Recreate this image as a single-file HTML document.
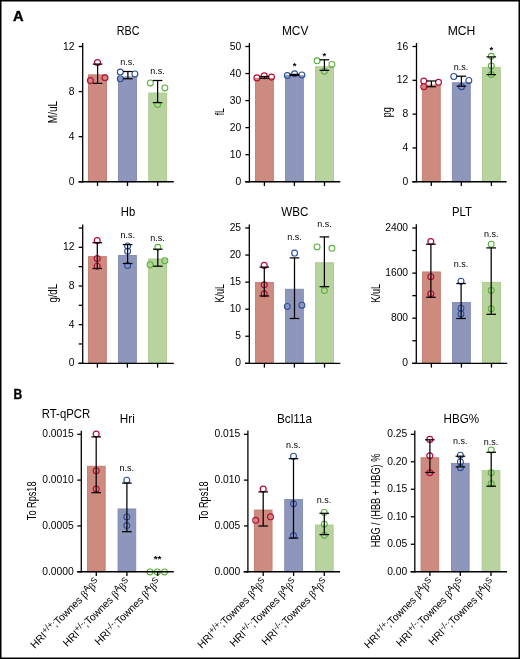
<!DOCTYPE html><html><head><meta charset="utf-8"><style>html,body{margin:0;padding:0;background:#fff;width:520px;height:659px;overflow:hidden}body{position:relative;font-family:"Liberation Sans",sans-serif}</style></head><body>
<svg width="520" height="659" viewBox="0 0 520 659" style="position:absolute;left:0;top:0;will-change:transform">
<g font-family='"Liberation Sans", sans-serif'>
<rect x="0" y="0" width="520" height="659" fill="#fff"/>
<text x="13.0" y="20.8" font-size="14.2" font-weight="bold" textLength="10.6" lengthAdjust="spacingAndGlyphs" fill="#000" stroke="#000" stroke-width="0.4">A</text>
<text x="13.6" y="399.4" font-size="14.2" font-weight="bold" textLength="8.7" lengthAdjust="spacingAndGlyphs" fill="#000" stroke="#000" stroke-width="0.4">B</text>
<rect x="88.55" y="74.85000000000001" width="17.900000000000002" height="106.89999999999999" fill="#cd8b7f" stroke="#c47a6e" stroke-width="0.9"/>
<rect x="118.55" y="76.95" width="17.900000000000002" height="104.8" fill="#8e97bb" stroke="#8089b2" stroke-width="0.9"/>
<rect x="148.75" y="93.05" width="17.900000000000002" height="88.7" fill="#b8d39d" stroke="#a9c98c" stroke-width="0.9"/>
<circle cx="97.5" cy="62.6" r="2.95" fill="none" stroke="#b80e38" stroke-width="1.2"/>
<circle cx="90.4" cy="80.6" r="2.95" fill="none" stroke="#b80e38" stroke-width="1.2"/>
<circle cx="105" cy="77.75" r="2.95" fill="none" stroke="#b80e38" stroke-width="1.2"/>
<circle cx="120.3" cy="72.1" r="2.95" fill="none" stroke="#2b4f99" stroke-width="1.1"/>
<circle cx="120.3" cy="78.75" r="2.95" fill="none" stroke="#2b4f99" stroke-width="1.1"/>
<circle cx="134.9" cy="74.0" r="2.95" fill="none" stroke="#2b4f99" stroke-width="1.1"/>
<circle cx="150.4" cy="82.9" r="2.95" fill="none" stroke="#58b03a" stroke-width="1.05"/>
<circle cx="164.9" cy="87.9" r="2.95" fill="none" stroke="#58b03a" stroke-width="1.05"/>
<circle cx="157.6" cy="104.6" r="2.95" fill="none" stroke="#58b03a" stroke-width="1.05"/>
<line x1="97.6" y1="64.1" x2="97.6" y2="83.4" stroke="#000" stroke-width="1.25"/>
<line x1="92.8" y1="64.1" x2="102.39999999999999" y2="64.1" stroke="#000" stroke-width="1.25"/>
<line x1="92.8" y1="83.4" x2="102.39999999999999" y2="83.4" stroke="#000" stroke-width="1.25"/>
<line x1="127.9" y1="71.5" x2="127.9" y2="78.75" stroke="#000" stroke-width="1.25"/>
<line x1="123.10000000000001" y1="71.5" x2="132.70000000000002" y2="71.5" stroke="#000" stroke-width="1.25"/>
<line x1="123.10000000000001" y1="78.75" x2="132.70000000000002" y2="78.75" stroke="#000" stroke-width="1.25"/>
<line x1="157.6" y1="80.5" x2="157.6" y2="102.6" stroke="#000" stroke-width="1.25"/>
<line x1="152.79999999999998" y1="80.5" x2="162.4" y2="80.5" stroke="#000" stroke-width="1.25"/>
<line x1="152.79999999999998" y1="102.6" x2="162.4" y2="102.6" stroke="#000" stroke-width="1.25"/>
<line x1="82.7" y1="43.0" x2="82.7" y2="182.4" stroke="#000" stroke-width="1.3"/>
<line x1="78.5" y1="181.75" x2="173.8" y2="181.75" stroke="#000" stroke-width="1.3"/>
<line x1="78.7" y1="181.75" x2="82.7" y2="181.75" stroke="#000" stroke-width="1.3"/>
<text x="74.5" y="184.75" font-size="10.3" text-anchor="end" fill="#000">0</text>
<line x1="78.7" y1="136.66666666666666" x2="82.7" y2="136.66666666666666" stroke="#000" stroke-width="1.3"/>
<text x="74.5" y="139.66666666666666" font-size="10.3" text-anchor="end" fill="#000">4</text>
<line x1="78.7" y1="91.58333333333333" x2="82.7" y2="91.58333333333333" stroke="#000" stroke-width="1.3"/>
<text x="74.5" y="94.58333333333333" font-size="10.3" text-anchor="end" fill="#000">8</text>
<line x1="78.7" y1="46.5" x2="82.7" y2="46.5" stroke="#000" stroke-width="1.3"/>
<text x="74.5" y="49.5" font-size="10.3" text-anchor="end" fill="#000">12</text>
<line x1="97.5" y1="181.75" x2="97.5" y2="186.05" stroke="#000" stroke-width="1.3"/>
<line x1="127.5" y1="181.75" x2="127.5" y2="186.05" stroke="#000" stroke-width="1.3"/>
<line x1="157.70000000000002" y1="181.75" x2="157.70000000000002" y2="186.05" stroke="#000" stroke-width="1.3"/>
<text x="127.6" y="64.6" font-size="9" text-anchor="middle" fill="#000">n.s.</text>
<text x="157.6" y="73.7" font-size="9" text-anchor="middle" fill="#000">n.s.</text>
<text x="128.1" y="35.2" font-size="12.4" text-anchor="middle" textLength="22.7" lengthAdjust="spacingAndGlyphs" fill="#000">RBC</text>
<text x="57.1" y="112.0" font-size="12.4" text-anchor="middle" textLength="22.4" lengthAdjust="spacingAndGlyphs" transform="rotate(-90 57.1 112.0)" fill="#000">M/uL</text>
<rect x="255.45" y="78.35000000000001" width="17.900000000000002" height="103.39999999999999" fill="#cd8b7f" stroke="#c47a6e" stroke-width="0.9"/>
<rect x="285.45" y="75.65" width="17.900000000000002" height="106.1" fill="#8e97bb" stroke="#8089b2" stroke-width="0.9"/>
<rect x="315.55" y="66.75" width="17.900000000000002" height="115.0" fill="#b8d39d" stroke="#a9c98c" stroke-width="0.9"/>
<circle cx="256.9" cy="77.9" r="2.95" fill="none" stroke="#b80e38" stroke-width="1.2"/>
<circle cx="264.2" cy="75.8" r="2.95" fill="none" stroke="#b80e38" stroke-width="1.2"/>
<circle cx="271.5" cy="77.1" r="2.95" fill="none" stroke="#b80e38" stroke-width="1.2"/>
<circle cx="287.3" cy="75.6" r="2.95" fill="none" stroke="#2b4f99" stroke-width="1.1"/>
<circle cx="294.6" cy="73.8" r="2.95" fill="none" stroke="#2b4f99" stroke-width="1.1"/>
<circle cx="301.9" cy="75.0" r="2.95" fill="none" stroke="#2b4f99" stroke-width="1.1"/>
<circle cx="317.1" cy="60.8" r="2.95" fill="none" stroke="#58b03a" stroke-width="1.05"/>
<circle cx="331.9" cy="64.4" r="2.95" fill="none" stroke="#58b03a" stroke-width="1.05"/>
<circle cx="324.4" cy="71.3" r="2.95" fill="none" stroke="#58b03a" stroke-width="1.05"/>
<line x1="264.4" y1="76.5" x2="264.4" y2="78.3" stroke="#000" stroke-width="1.25"/>
<line x1="259.59999999999997" y1="76.5" x2="269.2" y2="76.5" stroke="#000" stroke-width="1.25"/>
<line x1="259.59999999999997" y1="78.3" x2="269.2" y2="78.3" stroke="#000" stroke-width="1.25"/>
<line x1="294.4" y1="74.4" x2="294.4" y2="75.4" stroke="#000" stroke-width="1.25"/>
<line x1="289.59999999999997" y1="74.4" x2="299.2" y2="74.4" stroke="#000" stroke-width="1.25"/>
<line x1="289.59999999999997" y1="75.4" x2="299.2" y2="75.4" stroke="#000" stroke-width="1.25"/>
<line x1="324.4" y1="59.8" x2="324.4" y2="70.4" stroke="#000" stroke-width="1.25"/>
<line x1="319.59999999999997" y1="59.8" x2="329.2" y2="59.8" stroke="#000" stroke-width="1.25"/>
<line x1="319.59999999999997" y1="70.4" x2="329.2" y2="70.4" stroke="#000" stroke-width="1.25"/>
<line x1="249.4" y1="43.0" x2="249.4" y2="182.4" stroke="#000" stroke-width="1.3"/>
<line x1="245.20000000000002" y1="181.75" x2="340.3" y2="181.75" stroke="#000" stroke-width="1.3"/>
<line x1="245.4" y1="181.75" x2="249.4" y2="181.75" stroke="#000" stroke-width="1.3"/>
<text x="241.20000000000002" y="184.75" font-size="10.3" text-anchor="end" fill="#000">0</text>
<line x1="245.4" y1="154.7" x2="249.4" y2="154.7" stroke="#000" stroke-width="1.3"/>
<text x="241.20000000000002" y="157.7" font-size="10.3" text-anchor="end" fill="#000">10</text>
<line x1="245.4" y1="127.65" x2="249.4" y2="127.65" stroke="#000" stroke-width="1.3"/>
<text x="241.20000000000002" y="130.65" font-size="10.3" text-anchor="end" fill="#000">20</text>
<line x1="245.4" y1="100.6" x2="249.4" y2="100.6" stroke="#000" stroke-width="1.3"/>
<text x="241.20000000000002" y="103.6" font-size="10.3" text-anchor="end" fill="#000">30</text>
<line x1="245.4" y1="73.55" x2="249.4" y2="73.55" stroke="#000" stroke-width="1.3"/>
<text x="241.20000000000002" y="76.55" font-size="10.3" text-anchor="end" fill="#000">40</text>
<line x1="245.4" y1="46.5" x2="249.4" y2="46.5" stroke="#000" stroke-width="1.3"/>
<text x="241.20000000000002" y="49.5" font-size="10.3" text-anchor="end" fill="#000">50</text>
<line x1="264.4" y1="181.75" x2="264.4" y2="186.05" stroke="#000" stroke-width="1.3"/>
<line x1="294.4" y1="181.75" x2="294.4" y2="186.05" stroke="#000" stroke-width="1.3"/>
<line x1="324.5" y1="181.75" x2="324.5" y2="186.05" stroke="#000" stroke-width="1.3"/>
<text x="294.6" y="68.8" font-size="9.5" text-anchor="middle" font-weight="bold" fill="#000">*</text>
<text x="324.4" y="59.300000000000004" font-size="9.5" text-anchor="middle" font-weight="bold" fill="#000">*</text>
<text x="295.2" y="35.2" font-size="12.4" text-anchor="middle" textLength="26.5" lengthAdjust="spacingAndGlyphs" fill="#000">MCV</text>
<text x="224.0" y="111.8" font-size="12.4" text-anchor="middle" textLength="7.0" lengthAdjust="spacingAndGlyphs" transform="rotate(-90 224.0 111.8)" fill="#000">fL</text>
<rect x="422.34999999999997" y="85.05" width="17.900000000000002" height="96.7" fill="#cd8b7f" stroke="#c47a6e" stroke-width="0.9"/>
<rect x="452.34999999999997" y="82.75" width="17.900000000000002" height="99.0" fill="#8e97bb" stroke="#8089b2" stroke-width="0.9"/>
<rect x="482.45" y="67.35000000000001" width="17.900000000000002" height="114.39999999999999" fill="#b8d39d" stroke="#a9c98c" stroke-width="0.9"/>
<circle cx="423.8" cy="81.0" r="2.95" fill="none" stroke="#b80e38" stroke-width="1.2"/>
<circle cx="438.5" cy="82.3" r="2.95" fill="none" stroke="#b80e38" stroke-width="1.2"/>
<circle cx="423.8" cy="86.7" r="2.95" fill="none" stroke="#b80e38" stroke-width="1.2"/>
<circle cx="453.8" cy="76.5" r="2.95" fill="none" stroke="#2b4f99" stroke-width="1.1"/>
<circle cx="468.8" cy="80.4" r="2.95" fill="none" stroke="#2b4f99" stroke-width="1.1"/>
<circle cx="461.5" cy="86.7" r="2.95" fill="none" stroke="#2b4f99" stroke-width="1.1"/>
<circle cx="491.3" cy="56.3" r="2.95" fill="none" stroke="#58b03a" stroke-width="1.05"/>
<circle cx="491.3" cy="66.0" r="2.95" fill="none" stroke="#58b03a" stroke-width="1.05"/>
<circle cx="491.3" cy="74.6" r="2.95" fill="none" stroke="#58b03a" stroke-width="1.05"/>
<line x1="431.4" y1="81.0" x2="431.4" y2="86.7" stroke="#000" stroke-width="1.25"/>
<line x1="426.59999999999997" y1="81.0" x2="436.2" y2="81.0" stroke="#000" stroke-width="1.25"/>
<line x1="426.59999999999997" y1="86.7" x2="436.2" y2="86.7" stroke="#000" stroke-width="1.25"/>
<line x1="461.4" y1="76.2" x2="461.4" y2="86.2" stroke="#000" stroke-width="1.25"/>
<line x1="456.59999999999997" y1="76.2" x2="466.2" y2="76.2" stroke="#000" stroke-width="1.25"/>
<line x1="456.59999999999997" y1="86.2" x2="466.2" y2="86.2" stroke="#000" stroke-width="1.25"/>
<line x1="491.3" y1="56.9" x2="491.3" y2="74.6" stroke="#000" stroke-width="1.25"/>
<line x1="486.5" y1="56.9" x2="496.1" y2="56.9" stroke="#000" stroke-width="1.25"/>
<line x1="486.5" y1="74.6" x2="496.1" y2="74.6" stroke="#000" stroke-width="1.25"/>
<line x1="416.5" y1="43.0" x2="416.5" y2="182.4" stroke="#000" stroke-width="1.3"/>
<line x1="412.3" y1="181.75" x2="506.6" y2="181.75" stroke="#000" stroke-width="1.3"/>
<line x1="412.5" y1="181.75" x2="416.5" y2="181.75" stroke="#000" stroke-width="1.3"/>
<text x="408.3" y="184.75" font-size="10.3" text-anchor="end" fill="#000">0</text>
<line x1="412.5" y1="147.9375" x2="416.5" y2="147.9375" stroke="#000" stroke-width="1.3"/>
<text x="408.3" y="150.9375" font-size="10.3" text-anchor="end" fill="#000">4</text>
<line x1="412.5" y1="114.125" x2="416.5" y2="114.125" stroke="#000" stroke-width="1.3"/>
<text x="408.3" y="117.125" font-size="10.3" text-anchor="end" fill="#000">8</text>
<line x1="412.5" y1="80.3125" x2="416.5" y2="80.3125" stroke="#000" stroke-width="1.3"/>
<text x="408.3" y="83.3125" font-size="10.3" text-anchor="end" fill="#000">12</text>
<line x1="412.5" y1="46.5" x2="416.5" y2="46.5" stroke="#000" stroke-width="1.3"/>
<text x="408.3" y="49.5" font-size="10.3" text-anchor="end" fill="#000">16</text>
<line x1="431.29999999999995" y1="181.75" x2="431.29999999999995" y2="186.05" stroke="#000" stroke-width="1.3"/>
<line x1="461.29999999999995" y1="181.75" x2="461.29999999999995" y2="186.05" stroke="#000" stroke-width="1.3"/>
<line x1="491.4" y1="181.75" x2="491.4" y2="186.05" stroke="#000" stroke-width="1.3"/>
<text x="461.0" y="69.8" font-size="9" text-anchor="middle" fill="#000">n.s.</text>
<text x="491.3" y="52.9" font-size="9.5" text-anchor="middle" font-weight="bold" fill="#000">*</text>
<text x="461.5" y="35.2" font-size="12.4" text-anchor="middle" textLength="27.7" lengthAdjust="spacingAndGlyphs" fill="#000">MCH</text>
<text x="391.0" y="112.2" font-size="12.4" text-anchor="middle" textLength="10.0" lengthAdjust="spacingAndGlyphs" transform="rotate(-90 391.0 112.2)" fill="#000">pg</text>
<rect x="88.45" y="256.65" width="17.900000000000002" height="106.65000000000002" fill="#cd8b7f" stroke="#c47a6e" stroke-width="0.9"/>
<rect x="118.45" y="255.45" width="17.900000000000002" height="107.85000000000001" fill="#8e97bb" stroke="#8089b2" stroke-width="0.9"/>
<rect x="148.64999999999998" y="258.95" width="17.900000000000002" height="104.35000000000001" fill="#b8d39d" stroke="#a9c98c" stroke-width="0.9"/>
<circle cx="97.2" cy="240.6" r="2.95" fill="none" stroke="#b80e38" stroke-width="1.2"/>
<circle cx="97.2" cy="258.5" r="2.95" fill="none" stroke="#b80e38" stroke-width="1.2"/>
<circle cx="97.2" cy="266.2" r="2.95" fill="none" stroke="#b80e38" stroke-width="1.2"/>
<circle cx="127.6" cy="246.0" r="2.95" fill="none" stroke="#2b4f99" stroke-width="1.1"/>
<circle cx="127.6" cy="251.3" r="2.95" fill="none" stroke="#2b4f99" stroke-width="1.1"/>
<circle cx="127.6" cy="265.6" r="2.95" fill="none" stroke="#2b4f99" stroke-width="1.1"/>
<circle cx="157.8" cy="247.3" r="2.95" fill="none" stroke="#58b03a" stroke-width="1.05"/>
<circle cx="150.1" cy="264.8" r="2.95" fill="none" stroke="#58b03a" stroke-width="1.05"/>
<circle cx="164.9" cy="260.8" r="2.95" fill="none" stroke="#58b03a" stroke-width="1.05"/>
<line x1="97.3" y1="242.7" x2="97.3" y2="268.5" stroke="#000" stroke-width="1.25"/>
<line x1="92.5" y1="242.7" x2="102.1" y2="242.7" stroke="#000" stroke-width="1.25"/>
<line x1="92.5" y1="268.5" x2="102.1" y2="268.5" stroke="#000" stroke-width="1.25"/>
<line x1="127.6" y1="244.6" x2="127.6" y2="263.5" stroke="#000" stroke-width="1.25"/>
<line x1="122.8" y1="244.6" x2="132.4" y2="244.6" stroke="#000" stroke-width="1.25"/>
<line x1="122.8" y1="263.5" x2="132.4" y2="263.5" stroke="#000" stroke-width="1.25"/>
<line x1="157.8" y1="249.2" x2="157.8" y2="266.2" stroke="#000" stroke-width="1.25"/>
<line x1="153.0" y1="249.2" x2="162.60000000000002" y2="249.2" stroke="#000" stroke-width="1.25"/>
<line x1="153.0" y1="266.2" x2="162.60000000000002" y2="266.2" stroke="#000" stroke-width="1.25"/>
<line x1="82.7" y1="224.4" x2="82.7" y2="363.95" stroke="#000" stroke-width="1.3"/>
<line x1="78.5" y1="363.3" x2="173.8" y2="363.3" stroke="#000" stroke-width="1.3"/>
<line x1="78.7" y1="363.3" x2="82.7" y2="363.3" stroke="#000" stroke-width="1.3"/>
<text x="74.5" y="366.3" font-size="10.3" text-anchor="end" fill="#000">0</text>
<line x1="78.7" y1="324.64285714285717" x2="82.7" y2="324.64285714285717" stroke="#000" stroke-width="1.3"/>
<text x="74.5" y="327.64285714285717" font-size="10.3" text-anchor="end" fill="#000">4</text>
<line x1="78.7" y1="285.98571428571427" x2="82.7" y2="285.98571428571427" stroke="#000" stroke-width="1.3"/>
<text x="74.5" y="288.98571428571427" font-size="10.3" text-anchor="end" fill="#000">8</text>
<line x1="78.7" y1="247.32857142857142" x2="82.7" y2="247.32857142857142" stroke="#000" stroke-width="1.3"/>
<text x="74.5" y="250.32857142857142" font-size="10.3" text-anchor="end" fill="#000">12</text>
<line x1="78.7" y1="343.9714285714286" x2="82.7" y2="343.9714285714286" stroke="#000" stroke-width="1.3"/>
<line x1="78.7" y1="305.31428571428575" x2="82.7" y2="305.31428571428575" stroke="#000" stroke-width="1.3"/>
<line x1="78.7" y1="266.65714285714284" x2="82.7" y2="266.65714285714284" stroke="#000" stroke-width="1.3"/>
<line x1="78.7" y1="228.0" x2="82.7" y2="228.0" stroke="#000" stroke-width="1.3"/>
<line x1="97.4" y1="363.3" x2="97.4" y2="367.6" stroke="#000" stroke-width="1.3"/>
<line x1="127.4" y1="363.3" x2="127.4" y2="367.6" stroke="#000" stroke-width="1.3"/>
<line x1="157.6" y1="363.3" x2="157.6" y2="367.6" stroke="#000" stroke-width="1.3"/>
<text x="127.7" y="237.7" font-size="9" text-anchor="middle" fill="#000">n.s.</text>
<text x="157.6" y="240.6" font-size="9" text-anchor="middle" fill="#000">n.s.</text>
<text x="128.0" y="216.2" font-size="12.4" text-anchor="middle" textLength="14.4" lengthAdjust="spacingAndGlyphs" fill="#000">Hb</text>
<text x="57.2" y="293.3" font-size="12.4" text-anchor="middle" textLength="18.5" lengthAdjust="spacingAndGlyphs" transform="rotate(-90 57.2 293.3)" fill="#000">g/dL</text>
<rect x="255.45" y="282.55" width="17.900000000000002" height="80.74999999999999" fill="#cd8b7f" stroke="#c47a6e" stroke-width="0.9"/>
<rect x="285.45" y="289.25" width="17.900000000000002" height="74.05" fill="#8e97bb" stroke="#8089b2" stroke-width="0.9"/>
<rect x="315.55" y="262.75" width="17.900000000000002" height="100.55" fill="#b8d39d" stroke="#a9c98c" stroke-width="0.9"/>
<circle cx="264.2" cy="265.4" r="2.95" fill="none" stroke="#b80e38" stroke-width="1.2"/>
<circle cx="264.2" cy="284.8" r="2.95" fill="none" stroke="#b80e38" stroke-width="1.2"/>
<circle cx="264.2" cy="293.8" r="2.95" fill="none" stroke="#b80e38" stroke-width="1.2"/>
<circle cx="294.6" cy="253.1" r="2.95" fill="none" stroke="#2b4f99" stroke-width="1.1"/>
<circle cx="287.3" cy="306.5" r="2.95" fill="none" stroke="#2b4f99" stroke-width="1.1"/>
<circle cx="301.9" cy="305.2" r="2.95" fill="none" stroke="#2b4f99" stroke-width="1.1"/>
<circle cx="317.1" cy="246.9" r="2.95" fill="none" stroke="#58b03a" stroke-width="1.05"/>
<circle cx="331.9" cy="248.3" r="2.95" fill="none" stroke="#58b03a" stroke-width="1.05"/>
<circle cx="324.4" cy="290.6" r="2.95" fill="none" stroke="#58b03a" stroke-width="1.05"/>
<line x1="264.3" y1="267.1" x2="264.3" y2="296.0" stroke="#000" stroke-width="1.25"/>
<line x1="259.5" y1="267.1" x2="269.1" y2="267.1" stroke="#000" stroke-width="1.25"/>
<line x1="259.5" y1="296.0" x2="269.1" y2="296.0" stroke="#000" stroke-width="1.25"/>
<line x1="294.5" y1="257.9" x2="294.5" y2="318.5" stroke="#000" stroke-width="1.25"/>
<line x1="289.7" y1="257.9" x2="299.3" y2="257.9" stroke="#000" stroke-width="1.25"/>
<line x1="289.7" y1="318.5" x2="299.3" y2="318.5" stroke="#000" stroke-width="1.25"/>
<line x1="324.4" y1="236.9" x2="324.4" y2="286.7" stroke="#000" stroke-width="1.25"/>
<line x1="319.59999999999997" y1="236.9" x2="329.2" y2="236.9" stroke="#000" stroke-width="1.25"/>
<line x1="319.59999999999997" y1="286.7" x2="329.2" y2="286.7" stroke="#000" stroke-width="1.25"/>
<line x1="249.3" y1="224.4" x2="249.3" y2="363.95" stroke="#000" stroke-width="1.3"/>
<line x1="245.10000000000002" y1="363.3" x2="340.3" y2="363.3" stroke="#000" stroke-width="1.3"/>
<line x1="245.3" y1="363.3" x2="249.3" y2="363.3" stroke="#000" stroke-width="1.3"/>
<text x="241.10000000000002" y="366.3" font-size="10.3" text-anchor="end" fill="#000">0</text>
<line x1="245.3" y1="336.24" x2="249.3" y2="336.24" stroke="#000" stroke-width="1.3"/>
<text x="241.10000000000002" y="339.24" font-size="10.3" text-anchor="end" fill="#000">5</text>
<line x1="245.3" y1="309.18" x2="249.3" y2="309.18" stroke="#000" stroke-width="1.3"/>
<text x="241.10000000000002" y="312.18" font-size="10.3" text-anchor="end" fill="#000">10</text>
<line x1="245.3" y1="282.12" x2="249.3" y2="282.12" stroke="#000" stroke-width="1.3"/>
<text x="241.10000000000002" y="285.12" font-size="10.3" text-anchor="end" fill="#000">15</text>
<line x1="245.3" y1="255.06" x2="249.3" y2="255.06" stroke="#000" stroke-width="1.3"/>
<text x="241.10000000000002" y="258.06" font-size="10.3" text-anchor="end" fill="#000">20</text>
<line x1="245.3" y1="228.0" x2="249.3" y2="228.0" stroke="#000" stroke-width="1.3"/>
<text x="241.10000000000002" y="231.0" font-size="10.3" text-anchor="end" fill="#000">25</text>
<line x1="264.4" y1="363.3" x2="264.4" y2="367.6" stroke="#000" stroke-width="1.3"/>
<line x1="294.4" y1="363.3" x2="294.4" y2="367.6" stroke="#000" stroke-width="1.3"/>
<line x1="324.5" y1="363.3" x2="324.5" y2="367.6" stroke="#000" stroke-width="1.3"/>
<text x="294.5" y="239.6" font-size="9" text-anchor="middle" fill="#000">n.s.</text>
<text x="324.5" y="227.1" font-size="9" text-anchor="middle" fill="#000">n.s.</text>
<text x="294.8" y="216.4" font-size="12.4" text-anchor="middle" textLength="27.2" lengthAdjust="spacingAndGlyphs" fill="#000">WBC</text>
<text x="224.0" y="293.3" font-size="12.4" text-anchor="middle" textLength="18.5" lengthAdjust="spacingAndGlyphs" transform="rotate(-90 224.0 293.3)" fill="#000">K/uL</text>
<rect x="422.45" y="271.95" width="17.900000000000002" height="91.35000000000001" fill="#cd8b7f" stroke="#c47a6e" stroke-width="0.9"/>
<rect x="452.45" y="302.55" width="17.900000000000002" height="60.749999999999986" fill="#8e97bb" stroke="#8089b2" stroke-width="0.9"/>
<rect x="482.55" y="282.34999999999997" width="17.900000000000002" height="80.95000000000003" fill="#b8d39d" stroke="#a9c98c" stroke-width="0.9"/>
<circle cx="430.8" cy="241.5" r="2.95" fill="none" stroke="#b80e38" stroke-width="1.2"/>
<circle cx="430.8" cy="276.7" r="2.95" fill="none" stroke="#b80e38" stroke-width="1.2"/>
<circle cx="430.8" cy="293.7" r="2.95" fill="none" stroke="#b80e38" stroke-width="1.2"/>
<circle cx="461.0" cy="281.2" r="2.95" fill="none" stroke="#2b4f99" stroke-width="1.1"/>
<circle cx="461.0" cy="308.2" r="2.95" fill="none" stroke="#2b4f99" stroke-width="1.1"/>
<circle cx="461.0" cy="313.9" r="2.95" fill="none" stroke="#2b4f99" stroke-width="1.1"/>
<circle cx="491.2" cy="244.2" r="2.95" fill="none" stroke="#58b03a" stroke-width="1.05"/>
<circle cx="491.2" cy="290.4" r="2.95" fill="none" stroke="#58b03a" stroke-width="1.05"/>
<circle cx="491.2" cy="308.8" r="2.95" fill="none" stroke="#58b03a" stroke-width="1.05"/>
<line x1="430.9" y1="244.2" x2="430.9" y2="297.3" stroke="#000" stroke-width="1.25"/>
<line x1="426.09999999999997" y1="244.2" x2="435.7" y2="244.2" stroke="#000" stroke-width="1.25"/>
<line x1="426.09999999999997" y1="297.3" x2="435.7" y2="297.3" stroke="#000" stroke-width="1.25"/>
<line x1="461.1" y1="283.5" x2="461.1" y2="318.5" stroke="#000" stroke-width="1.25"/>
<line x1="456.3" y1="283.5" x2="465.90000000000003" y2="283.5" stroke="#000" stroke-width="1.25"/>
<line x1="456.3" y1="318.5" x2="465.90000000000003" y2="318.5" stroke="#000" stroke-width="1.25"/>
<line x1="491.2" y1="247.9" x2="491.2" y2="314.3" stroke="#000" stroke-width="1.25"/>
<line x1="486.4" y1="247.9" x2="496.0" y2="247.9" stroke="#000" stroke-width="1.25"/>
<line x1="486.4" y1="314.3" x2="496.0" y2="314.3" stroke="#000" stroke-width="1.25"/>
<line x1="416.3" y1="224.2" x2="416.3" y2="363.95" stroke="#000" stroke-width="1.3"/>
<line x1="412.1" y1="363.3" x2="507.2" y2="363.3" stroke="#000" stroke-width="1.3"/>
<line x1="412.3" y1="363.3" x2="416.3" y2="363.3" stroke="#000" stroke-width="1.3"/>
<text x="408.1" y="366.3" font-size="10.3" text-anchor="end" fill="#000">0</text>
<line x1="412.3" y1="318.2" x2="416.3" y2="318.2" stroke="#000" stroke-width="1.3"/>
<text x="408.1" y="321.2" font-size="10.3" text-anchor="end" fill="#000">800</text>
<line x1="412.3" y1="273.1" x2="416.3" y2="273.1" stroke="#000" stroke-width="1.3"/>
<text x="408.1" y="276.1" font-size="10.3" text-anchor="end" fill="#000">1600</text>
<line x1="412.3" y1="228.0" x2="416.3" y2="228.0" stroke="#000" stroke-width="1.3"/>
<text x="408.1" y="231.0" font-size="10.3" text-anchor="end" fill="#000">2400</text>
<line x1="412.3" y1="340.75" x2="416.3" y2="340.75" stroke="#000" stroke-width="1.3"/>
<line x1="412.3" y1="295.65" x2="416.3" y2="295.65" stroke="#000" stroke-width="1.3"/>
<line x1="412.3" y1="250.55" x2="416.3" y2="250.55" stroke="#000" stroke-width="1.3"/>
<line x1="431.4" y1="363.3" x2="431.4" y2="367.6" stroke="#000" stroke-width="1.3"/>
<line x1="461.4" y1="363.3" x2="461.4" y2="367.6" stroke="#000" stroke-width="1.3"/>
<line x1="491.5" y1="363.3" x2="491.5" y2="367.6" stroke="#000" stroke-width="1.3"/>
<text x="461.0" y="267.1" font-size="9" text-anchor="middle" fill="#000">n.s.</text>
<text x="491.2" y="237.0" font-size="9" text-anchor="middle" fill="#000">n.s.</text>
<text x="462.0" y="216.4" font-size="12.4" text-anchor="middle" textLength="19.8" lengthAdjust="spacingAndGlyphs" fill="#000">PLT</text>
<text x="380.5" y="293.3" font-size="12.4" text-anchor="middle" textLength="18.5" lengthAdjust="spacingAndGlyphs" transform="rotate(-90 380.5 293.3)" fill="#000">K/uL</text>
<text x="41.8" y="418.1" font-size="12.4" textLength="48.4" lengthAdjust="spacingAndGlyphs" fill="#000">RT-qPCR</text>
<rect x="87.45" y="466.25" width="17.700000000000003" height="105.49999999999999" fill="#cd8b7f" stroke="#c47a6e" stroke-width="0.9"/>
<rect x="118.05" y="508.95" width="17.700000000000003" height="62.8" fill="#8e97bb" stroke="#8089b2" stroke-width="0.9"/>
<circle cx="96.2" cy="434.0" r="2.95" fill="none" stroke="#b80e38" stroke-width="1.2"/>
<circle cx="96.2" cy="470.8" r="2.95" fill="none" stroke="#b80e38" stroke-width="1.2"/>
<circle cx="96.2" cy="489.0" r="2.95" fill="none" stroke="#b80e38" stroke-width="1.2"/>
<circle cx="126.8" cy="480.2" r="2.95" fill="none" stroke="#2b4f99" stroke-width="1.1"/>
<circle cx="126.8" cy="516.9" r="2.95" fill="none" stroke="#2b4f99" stroke-width="1.1"/>
<circle cx="126.8" cy="525.6" r="2.95" fill="none" stroke="#2b4f99" stroke-width="1.1"/>
<circle cx="150.0" cy="571.9" r="2.95" fill="none" stroke="#58b03a" stroke-width="1.05"/>
<circle cx="157.3" cy="571.9" r="2.95" fill="none" stroke="#58b03a" stroke-width="1.05"/>
<circle cx="164.5" cy="571.9" r="2.95" fill="none" stroke="#58b03a" stroke-width="1.05"/>
<line x1="96.2" y1="436.9" x2="96.2" y2="492.7" stroke="#000" stroke-width="1.25"/>
<line x1="91.4" y1="436.9" x2="101.0" y2="436.9" stroke="#000" stroke-width="1.25"/>
<line x1="91.4" y1="492.7" x2="101.0" y2="492.7" stroke="#000" stroke-width="1.25"/>
<line x1="126.9" y1="483.1" x2="126.9" y2="531.7" stroke="#000" stroke-width="1.25"/>
<line x1="122.10000000000001" y1="483.1" x2="131.70000000000002" y2="483.1" stroke="#000" stroke-width="1.25"/>
<line x1="122.10000000000001" y1="531.7" x2="131.70000000000002" y2="531.7" stroke="#000" stroke-width="1.25"/>
<line x1="81.3" y1="430.8" x2="81.3" y2="572.4" stroke="#000" stroke-width="1.3"/>
<line x1="77.1" y1="571.75" x2="173.8" y2="571.75" stroke="#000" stroke-width="1.3"/>
<line x1="77.3" y1="571.75" x2="81.3" y2="571.75" stroke="#000" stroke-width="1.3"/>
<text x="73.7" y="574.75" font-size="10.3" text-anchor="end" fill="#000">0.0000</text>
<line x1="77.3" y1="525.9333333333333" x2="81.3" y2="525.9333333333333" stroke="#000" stroke-width="1.3"/>
<text x="73.7" y="528.9333333333333" font-size="10.3" text-anchor="end" fill="#000">0.0005</text>
<line x1="77.3" y1="480.1166666666667" x2="81.3" y2="480.1166666666667" stroke="#000" stroke-width="1.3"/>
<text x="73.7" y="483.1166666666667" font-size="10.3" text-anchor="end" fill="#000">0.0010</text>
<line x1="77.3" y1="434.3" x2="81.3" y2="434.3" stroke="#000" stroke-width="1.3"/>
<text x="73.7" y="437.3" font-size="10.3" text-anchor="end" fill="#000">0.0015</text>
<line x1="96.3" y1="571.75" x2="96.3" y2="576.05" stroke="#000" stroke-width="1.3"/>
<line x1="126.89999999999999" y1="571.75" x2="126.89999999999999" y2="576.05" stroke="#000" stroke-width="1.3"/>
<line x1="157.70000000000002" y1="571.75" x2="157.70000000000002" y2="576.05" stroke="#000" stroke-width="1.3"/>
<text x="126.8" y="470.8" font-size="9" text-anchor="middle" fill="#000">n.s.</text>
<text x="157.6" y="562.0" font-size="9.5" text-anchor="middle" font-weight="bold" textLength="7.8" lengthAdjust="spacingAndGlyphs" fill="#000">**</text>
<text x="127.3" y="422.9" font-size="12.4" text-anchor="middle" textLength="15.0" lengthAdjust="spacingAndGlyphs" fill="#000">Hri</text>
<text x="36.2" y="500.8" font-size="12.4" text-anchor="middle" textLength="38.8" lengthAdjust="spacingAndGlyphs" transform="rotate(-90 36.2 500.8)" fill="#000">To Rps18</text>
<rect x="254.35" y="510.05" width="17.700000000000003" height="61.699999999999974" fill="#cd8b7f" stroke="#c47a6e" stroke-width="0.9"/>
<rect x="284.75" y="499.55" width="17.700000000000003" height="72.19999999999997" fill="#8e97bb" stroke="#8089b2" stroke-width="0.9"/>
<rect x="315.45" y="525.0500000000001" width="17.700000000000003" height="46.699999999999974" fill="#b8d39d" stroke="#a9c98c" stroke-width="0.9"/>
<circle cx="263.2" cy="489.0" r="2.95" fill="none" stroke="#b80e38" stroke-width="1.2"/>
<circle cx="255.7" cy="520.3" r="2.95" fill="none" stroke="#b80e38" stroke-width="1.2"/>
<circle cx="270.5" cy="516.8" r="2.95" fill="none" stroke="#b80e38" stroke-width="1.2"/>
<circle cx="293.5" cy="456.2" r="2.95" fill="none" stroke="#2b4f99" stroke-width="1.1"/>
<circle cx="293.5" cy="503.8" r="2.95" fill="none" stroke="#2b4f99" stroke-width="1.1"/>
<circle cx="293.5" cy="535.6" r="2.95" fill="none" stroke="#2b4f99" stroke-width="1.1"/>
<circle cx="324.3" cy="512.4" r="2.95" fill="none" stroke="#58b03a" stroke-width="1.05"/>
<circle cx="324.3" cy="524.2" r="2.95" fill="none" stroke="#58b03a" stroke-width="1.05"/>
<circle cx="324.3" cy="535.2" r="2.95" fill="none" stroke="#58b03a" stroke-width="1.05"/>
<line x1="263.2" y1="491.9" x2="263.2" y2="526.0" stroke="#000" stroke-width="1.25"/>
<line x1="258.4" y1="491.9" x2="268.0" y2="491.9" stroke="#000" stroke-width="1.25"/>
<line x1="258.4" y1="526.0" x2="268.0" y2="526.0" stroke="#000" stroke-width="1.25"/>
<line x1="293.5" y1="458.7" x2="293.5" y2="538.1" stroke="#000" stroke-width="1.25"/>
<line x1="288.7" y1="458.7" x2="298.3" y2="458.7" stroke="#000" stroke-width="1.25"/>
<line x1="288.7" y1="538.1" x2="298.3" y2="538.1" stroke="#000" stroke-width="1.25"/>
<line x1="324.3" y1="513.3" x2="324.3" y2="534.6" stroke="#000" stroke-width="1.25"/>
<line x1="319.5" y1="513.3" x2="329.1" y2="513.3" stroke="#000" stroke-width="1.25"/>
<line x1="319.5" y1="534.6" x2="329.1" y2="534.6" stroke="#000" stroke-width="1.25"/>
<line x1="247.9" y1="430.5" x2="247.9" y2="572.4" stroke="#000" stroke-width="1.3"/>
<line x1="243.70000000000002" y1="571.75" x2="340.0" y2="571.75" stroke="#000" stroke-width="1.3"/>
<line x1="243.9" y1="571.75" x2="247.9" y2="571.75" stroke="#000" stroke-width="1.3"/>
<text x="240.3" y="574.75" font-size="10.3" text-anchor="end" fill="#000">0.000</text>
<line x1="243.9" y1="525.9333333333333" x2="247.9" y2="525.9333333333333" stroke="#000" stroke-width="1.3"/>
<text x="240.3" y="528.9333333333333" font-size="10.3" text-anchor="end" fill="#000">0.005</text>
<line x1="243.9" y1="480.1166666666667" x2="247.9" y2="480.1166666666667" stroke="#000" stroke-width="1.3"/>
<text x="240.3" y="483.1166666666667" font-size="10.3" text-anchor="end" fill="#000">0.010</text>
<line x1="243.9" y1="434.3" x2="247.9" y2="434.3" stroke="#000" stroke-width="1.3"/>
<text x="240.3" y="437.3" font-size="10.3" text-anchor="end" fill="#000">0.015</text>
<line x1="263.2" y1="571.75" x2="263.2" y2="576.05" stroke="#000" stroke-width="1.3"/>
<line x1="293.6" y1="571.75" x2="293.6" y2="576.05" stroke="#000" stroke-width="1.3"/>
<line x1="324.3" y1="571.75" x2="324.3" y2="576.05" stroke="#000" stroke-width="1.3"/>
<text x="293.3" y="447.7" font-size="9" text-anchor="middle" fill="#000">n.s.</text>
<text x="323.9" y="502.9" font-size="9" text-anchor="middle" fill="#000">n.s.</text>
<text x="294.5" y="422.9" font-size="12.4" text-anchor="middle" textLength="35.2" lengthAdjust="spacingAndGlyphs" fill="#000">Bcl11a</text>
<text x="208.4" y="500.9" font-size="12.4" text-anchor="middle" textLength="38.8" lengthAdjust="spacingAndGlyphs" transform="rotate(-90 208.4 500.9)" fill="#000">To Rps18</text>
<rect x="421.05" y="457.75" width="17.700000000000003" height="113.99999999999999" fill="#cd8b7f" stroke="#c47a6e" stroke-width="0.9"/>
<rect x="451.45" y="463.34999999999997" width="17.700000000000003" height="108.40000000000002" fill="#8e97bb" stroke="#8089b2" stroke-width="0.9"/>
<rect x="482.15" y="470.65" width="17.700000000000003" height="101.10000000000001" fill="#b8d39d" stroke="#a9c98c" stroke-width="0.9"/>
<circle cx="429.8" cy="439.4" r="2.95" fill="none" stroke="#b80e38" stroke-width="1.2"/>
<circle cx="429.8" cy="455.8" r="2.95" fill="none" stroke="#b80e38" stroke-width="1.2"/>
<circle cx="429.8" cy="472.7" r="2.95" fill="none" stroke="#b80e38" stroke-width="1.2"/>
<circle cx="460.4" cy="455.2" r="2.95" fill="none" stroke="#2b4f99" stroke-width="1.1"/>
<circle cx="460.4" cy="461.9" r="2.95" fill="none" stroke="#2b4f99" stroke-width="1.1"/>
<circle cx="460.4" cy="467.7" r="2.95" fill="none" stroke="#2b4f99" stroke-width="1.1"/>
<circle cx="491.2" cy="450.0" r="2.95" fill="none" stroke="#58b03a" stroke-width="1.05"/>
<circle cx="491.2" cy="472.7" r="2.95" fill="none" stroke="#58b03a" stroke-width="1.05"/>
<circle cx="491.2" cy="483.7" r="2.95" fill="none" stroke="#58b03a" stroke-width="1.05"/>
<line x1="429.9" y1="439.8" x2="429.9" y2="472.5" stroke="#000" stroke-width="1.25"/>
<line x1="425.09999999999997" y1="439.8" x2="434.7" y2="439.8" stroke="#000" stroke-width="1.25"/>
<line x1="425.09999999999997" y1="472.5" x2="434.7" y2="472.5" stroke="#000" stroke-width="1.25"/>
<line x1="460.4" y1="456.2" x2="460.4" y2="466.9" stroke="#000" stroke-width="1.25"/>
<line x1="455.59999999999997" y1="456.2" x2="465.2" y2="456.2" stroke="#000" stroke-width="1.25"/>
<line x1="455.59999999999997" y1="466.9" x2="465.2" y2="466.9" stroke="#000" stroke-width="1.25"/>
<line x1="491.2" y1="452.3" x2="491.2" y2="486.2" stroke="#000" stroke-width="1.25"/>
<line x1="486.4" y1="452.3" x2="496.0" y2="452.3" stroke="#000" stroke-width="1.25"/>
<line x1="486.4" y1="486.2" x2="496.0" y2="486.2" stroke="#000" stroke-width="1.25"/>
<line x1="414.8" y1="430.5" x2="414.8" y2="572.4" stroke="#000" stroke-width="1.3"/>
<line x1="410.6" y1="571.75" x2="507.0" y2="571.75" stroke="#000" stroke-width="1.3"/>
<line x1="410.8" y1="571.75" x2="414.8" y2="571.75" stroke="#000" stroke-width="1.3"/>
<text x="407.2" y="574.75" font-size="10.3" text-anchor="end" fill="#000">0.00</text>
<line x1="410.8" y1="544.26" x2="414.8" y2="544.26" stroke="#000" stroke-width="1.3"/>
<text x="407.2" y="547.26" font-size="10.3" text-anchor="end" fill="#000">0.05</text>
<line x1="410.8" y1="516.77" x2="414.8" y2="516.77" stroke="#000" stroke-width="1.3"/>
<text x="407.2" y="519.77" font-size="10.3" text-anchor="end" fill="#000">0.10</text>
<line x1="410.8" y1="489.28" x2="414.8" y2="489.28" stroke="#000" stroke-width="1.3"/>
<text x="407.2" y="492.28" font-size="10.3" text-anchor="end" fill="#000">0.15</text>
<line x1="410.8" y1="461.79" x2="414.8" y2="461.79" stroke="#000" stroke-width="1.3"/>
<text x="407.2" y="464.79" font-size="10.3" text-anchor="end" fill="#000">0.20</text>
<line x1="410.8" y1="434.3" x2="414.8" y2="434.3" stroke="#000" stroke-width="1.3"/>
<text x="407.2" y="437.3" font-size="10.3" text-anchor="end" fill="#000">0.25</text>
<line x1="429.90000000000003" y1="571.75" x2="429.90000000000003" y2="576.05" stroke="#000" stroke-width="1.3"/>
<line x1="460.3" y1="571.75" x2="460.3" y2="576.05" stroke="#000" stroke-width="1.3"/>
<line x1="491.0" y1="571.75" x2="491.0" y2="576.05" stroke="#000" stroke-width="1.3"/>
<text x="460.3" y="443.8" font-size="9" text-anchor="middle" fill="#000">n.s.</text>
<text x="491.0" y="444.8" font-size="9" text-anchor="middle" fill="#000">n.s.</text>
<text x="461.3" y="422.9" font-size="12.4" text-anchor="middle" textLength="35.6" lengthAdjust="spacingAndGlyphs" fill="#000">HBG%</text>
<text x="380.4" y="500.5" font-size="12.6" text-anchor="middle" textLength="93.7" lengthAdjust="spacingAndGlyphs" transform="rotate(-90 380.4 500.5)" fill="#000">HBG / (HBB + HBG) %</text>
<text x="100.60000000000001" y="583.2" font-size="10.6" text-anchor="end" textLength="93.0" lengthAdjust="spacingAndGlyphs" transform="rotate(-45 100.60000000000001 583.2)" fill="#000">HRI<tspan font-size="9" dy="-3.4">+/+</tspan><tspan dy="3.4">;Townes </tspan><tspan font-family="Liberation Serif" font-size="11">β</tspan><tspan font-size="8.6" dy="-3.8">A</tspan><tspan dy="3.8" font-family="Liberation Serif" font-size="11">β</tspan><tspan font-size="8.6" dy="-3.8">S</tspan></text>
<text x="131.3" y="583.2" font-size="10.6" text-anchor="end" textLength="90.6" lengthAdjust="spacingAndGlyphs" transform="rotate(-45 131.3 583.2)" fill="#000">HRI<tspan font-size="9" dy="-3.4">+/-</tspan><tspan dy="3.4">;Townes </tspan><tspan font-family="Liberation Serif" font-size="11">β</tspan><tspan font-size="8.6" dy="-3.8">A</tspan><tspan dy="3.8" font-family="Liberation Serif" font-size="11">β</tspan><tspan font-size="8.6" dy="-3.8">S</tspan></text>
<text x="161.70000000000002" y="583.2" font-size="10.6" text-anchor="end" textLength="88.6" lengthAdjust="spacingAndGlyphs" transform="rotate(-45 161.70000000000002 583.2)" fill="#000">HRI<tspan font-size="9" dy="-3.4">-/-</tspan><tspan dy="3.4">;Townes </tspan><tspan font-family="Liberation Serif" font-size="11">β</tspan><tspan font-size="8.6" dy="-3.8">A</tspan><tspan dy="3.8" font-family="Liberation Serif" font-size="11">β</tspan><tspan font-size="8.6" dy="-3.8">S</tspan></text>
<text x="267.59999999999997" y="583.2" font-size="10.6" text-anchor="end" textLength="93.0" lengthAdjust="spacingAndGlyphs" transform="rotate(-45 267.59999999999997 583.2)" fill="#000">HRI<tspan font-size="9" dy="-3.4">+/+</tspan><tspan dy="3.4">;Townes </tspan><tspan font-family="Liberation Serif" font-size="11">β</tspan><tspan font-size="8.6" dy="-3.8">A</tspan><tspan dy="3.8" font-family="Liberation Serif" font-size="11">β</tspan><tspan font-size="8.6" dy="-3.8">S</tspan></text>
<text x="298.0" y="583.2" font-size="10.6" text-anchor="end" textLength="90.6" lengthAdjust="spacingAndGlyphs" transform="rotate(-45 298.0 583.2)" fill="#000">HRI<tspan font-size="9" dy="-3.4">+/-</tspan><tspan dy="3.4">;Townes </tspan><tspan font-family="Liberation Serif" font-size="11">β</tspan><tspan font-size="8.6" dy="-3.8">A</tspan><tspan dy="3.8" font-family="Liberation Serif" font-size="11">β</tspan><tspan font-size="8.6" dy="-3.8">S</tspan></text>
<text x="328.7" y="583.2" font-size="10.6" text-anchor="end" textLength="88.6" lengthAdjust="spacingAndGlyphs" transform="rotate(-45 328.7 583.2)" fill="#000">HRI<tspan font-size="9" dy="-3.4">-/-</tspan><tspan dy="3.4">;Townes </tspan><tspan font-family="Liberation Serif" font-size="11">β</tspan><tspan font-size="8.6" dy="-3.8">A</tspan><tspan dy="3.8" font-family="Liberation Serif" font-size="11">β</tspan><tspan font-size="8.6" dy="-3.8">S</tspan></text>
<text x="434.29999999999995" y="583.2" font-size="10.6" text-anchor="end" textLength="93.0" lengthAdjust="spacingAndGlyphs" transform="rotate(-45 434.29999999999995 583.2)" fill="#000">HRI<tspan font-size="9" dy="-3.4">+/+</tspan><tspan dy="3.4">;Townes </tspan><tspan font-family="Liberation Serif" font-size="11">β</tspan><tspan font-size="8.6" dy="-3.8">A</tspan><tspan dy="3.8" font-family="Liberation Serif" font-size="11">β</tspan><tspan font-size="8.6" dy="-3.8">S</tspan></text>
<text x="464.7" y="583.2" font-size="10.6" text-anchor="end" textLength="90.6" lengthAdjust="spacingAndGlyphs" transform="rotate(-45 464.7 583.2)" fill="#000">HRI<tspan font-size="9" dy="-3.4">+/-</tspan><tspan dy="3.4">;Townes </tspan><tspan font-family="Liberation Serif" font-size="11">β</tspan><tspan font-size="8.6" dy="-3.8">A</tspan><tspan dy="3.8" font-family="Liberation Serif" font-size="11">β</tspan><tspan font-size="8.6" dy="-3.8">S</tspan></text>
<text x="495.4" y="583.2" font-size="10.6" text-anchor="end" textLength="88.6" lengthAdjust="spacingAndGlyphs" transform="rotate(-45 495.4 583.2)" fill="#000">HRI<tspan font-size="9" dy="-3.4">-/-</tspan><tspan dy="3.4">;Townes </tspan><tspan font-family="Liberation Serif" font-size="11">β</tspan><tspan font-size="8.6" dy="-3.8">A</tspan><tspan dy="3.8" font-family="Liberation Serif" font-size="11">β</tspan><tspan font-size="8.6" dy="-3.8">S</tspan></text>
<rect x="0.75" y="0.75" width="518.5" height="657.5" fill="none" stroke="#000" stroke-width="1.5"/>
</g></svg>
</body></html>
